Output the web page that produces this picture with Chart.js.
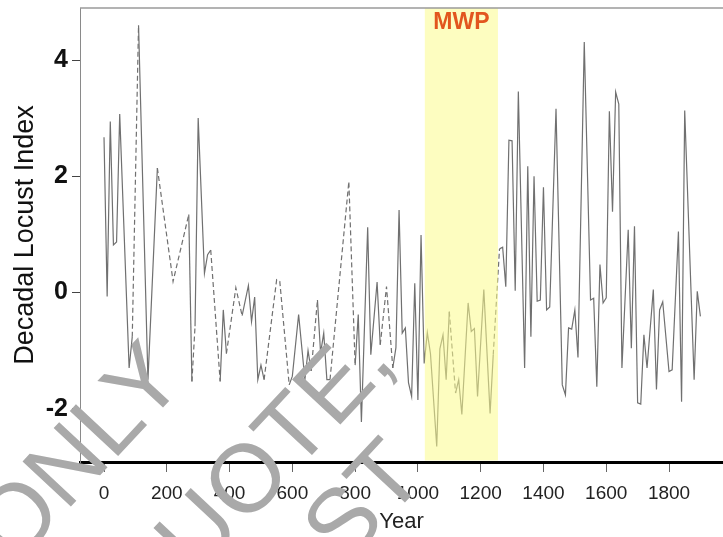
<!DOCTYPE html>
<html>
<head>
<meta charset="utf-8">
<script src="https://cdn.jsdelivr.net/npm/chart.js@4.4.1/dist/chart.umd.min.js"></script>
<style>
  html, body { margin: 0; padding: 0; background: #fff; }
  #wrap { width: 723px; height: 537px; }
</style>
</head>
<body>
<div id="wrap"><canvas id="c" width="723" height="537"></canvas></div>
<script>
// ---- data ----
const years = [0,10,20,30,40,50,80,90,110,140,170,220,270,280,290,300,320,330,340,370,380,390,420,440,460,470,480,490,500,510,550,560,590,600,620,640,650,660,680,690,700,710,720,780,800,810,820,840,850,870,880,900,920,930,940,950,960,970,980,990,1000,1010,1020,1030,1040,1060,1070,1080,1090,1100,1120,1130,1140,1160,1170,1180,1190,1210,1230,1240,1260,1270,1280,1290,1300,1310,1320,1340,1350,1360,1370,1380,1390,1400,1410,1420,1440,1460,1470,1480,1490,1500,1510,1530,1550,1560,1570,1580,1590,1600,1610,1620,1630,1640,1650,1670,1680,1690,1700,1710,1720,1730,1750,1760,1770,1780,1800,1810,1830,1840,1850,1880,1890,1900];
const locustIndex = [2.67,-0.07,2.94,0.82,0.87,3.07,-1.3,-0.76,4.6,-1.5,2.14,0.19,1.34,-1.53,-0.58,3.0,0.33,0.65,0.73,-1.53,-0.3,-1.05,0.08,-0.4,0.12,-0.5,-0.08,-1.5,-1.25,-1.5,0.22,0.19,-1.59,-1.44,-0.38,-1.5,-1.0,-1.35,-0.13,-1.04,-0.7,-1.5,-1.5,1.91,-1.25,-0.38,-2.23,1.12,-1.07,0.18,-0.9,0.1,-1.3,-0.95,1.42,-0.7,-0.61,-1.55,-1.79,0.16,-1.85,0.99,-1.22,-0.69,-1.05,-2.65,-0.97,-0.73,-1.5,-0.33,-1.73,-1.5,-2.1,-0.18,-0.67,-0.62,-1.79,0.05,-2.08,-1.07,0.75,0.78,0.1,2.62,2.61,0.03,3.46,-1.3,2.17,-0.76,2.0,-0.15,-0.13,1.81,-0.3,-0.25,3.16,-1.59,-1.76,-0.61,-0.63,-0.3,-1.12,4.31,-0.13,-0.1,-1.62,0.48,-0.18,-0.09,3.12,1.39,3.45,3.24,-1.3,1.08,-0.96,1.14,-1.9,-1.92,-0.73,-1.3,0.05,-1.67,-0.3,-0.16,-1.36,-1.33,1.05,-1.88,3.13,-1.5,0.02,-0.41];
// year ranges drawn dashed (gap-filled sections)
const dashedRanges = [[90,110],[170,270],[280,290],[340,370],[390,440],[510,590],[660,680],[720,800],[880,920],[1100,1120],[1240,1260]];
const xTicks = [0,200,400,600,800,1000,1200,1400,1600,1800];
const yTicks = [-2,0,2,4];
const mwpStart = 1022, mwpEnd = 1255;
const mwpLabel = 'MWP';
const xTitle = 'Year';
const yTitle = 'Decadal Locust Index';
const watermarkWords = ['ONLY', 'QUOTE,', 'ST'];

// ---- drawing ----
const FONT = "'Liberation Sans', Arial, Helvetica, sans-serif";

function isDashed(a, b) {
  return dashedRanges.some(r => a >= r[0] && b <= r[1]);
}

const extras = {
  id: 'extras',
  afterDatasetsDraw(chart) {
    const {ctx, chartArea: ca, scales: {x}} = chart;
    const x0 = x.getPixelForValue(mwpStart), x1 = x.getPixelForValue(mwpEnd);
    ctx.save();
    ctx.fillStyle = 'rgba(252,252,140,0.55)';
    ctx.fillRect(x0, ca.top, x1 - x0, ca.bottom - ca.top - 1.5);
    ctx.fillStyle = '#E2561E';
    ctx.font = "bold 23px " + FONT;
    ctx.textAlign = 'center';
    ctx.textBaseline = 'middle';
    ctx.fillText(mwpLabel, (x0 + x1) / 2, 23);
    ctx.restore();
  },
  afterDraw(chart) {
    const {ctx, chartArea: ca} = chart;
    ctx.save();
    ctx.strokeStyle = '#9a9a9a';
    ctx.lineWidth = 1.5;
    ctx.beginPath();
    ctx.moveTo(ca.left, ca.top);
    ctx.lineTo(ca.right, ca.top);
    ctx.stroke();
    // watermark
    const anchors = [[188, 381], [397, 364], [428, 478]];
    ctx.fillStyle = '#a9a9a9';
    ctx.font = "96px " + FONT;
    ctx.textAlign = 'right';
    ctx.textBaseline = 'alphabetic';
    watermarkWords.forEach((w, i) => {
      ctx.save();
      ctx.translate(anchors[i][0], anchors[i][1]);
      ctx.rotate(-0.82);
      ctx.fillText(w, 0, 0);
      ctx.restore();
    });
    ctx.restore();
  }
};

new Chart(document.getElementById('c'), {
  type: 'line',
  data: {
    datasets: [{
      data: years.map((y, i) => ({x: y, y: locustIndex[i]})),
      borderColor: '#707070',
      borderWidth: 1.2,
      pointRadius: 0,
      tension: 0,
      fill: false,
      segment: {
        borderDash: c => isDashed(c.p0.parsed.x, c.p1.parsed.x) ? [5, 3] : undefined
      }
    }]
  },
  options: {
    responsive: false,
    animation: false,
    layout: {padding: {top: 8, right: 0, left: 0, bottom: 0}},
    plugins: {legend: {display: false}, tooltip: {enabled: false}},
    scales: {
      x: {
        type: 'linear',
        min: -76.5,
        max: 1972,
        afterBuildTicks: s => { s.ticks = xTicks.map(v => ({value: v})); },
        afterFit: s => { s.height = 75; s.paddingLeft = 0; s.paddingRight = 0; },
        grid: {drawOnChartArea: false, drawTicks: true, tickLength: 10, color: '#666', lineWidth: 1},
        border: {display: true, color: '#000', width: 3},
        ticks: {font: {family: FONT, size: 19}, color: '#222', padding: 10, maxRotation: 0, autoSkip: false,
                callback: v => String(v)},
        title: {display: true, text: xTitle, font: {family: FONT, size: 22}, color: '#222', padding: {top: 0, bottom: 2}}
      },
      y: {
        min: -2.917,
        max: 4.895,
        afterBuildTicks: s => { s.ticks = yTicks.map(v => ({value: v})); },
        afterFit: s => { s.width = 80; s.paddingTop = 0; s.paddingBottom = 0; },
        grid: {drawOnChartArea: false, drawTicks: true, tickLength: 8, color: '#444', lineWidth: 1},
        border: {display: true, color: '#8a8a8a', width: 1},
        ticks: {font: {family: FONT, size: 25, weight: 'bold'}, color: '#111', padding: 4,
                callback: v => String(v)},
        title: {display: true, text: yTitle, font: {family: FONT, size: 27}, color: '#111', padding: {top: 9, bottom: 0}}
      }
    }
  },
  plugins: [extras]
});
</script>
</body>
</html>
